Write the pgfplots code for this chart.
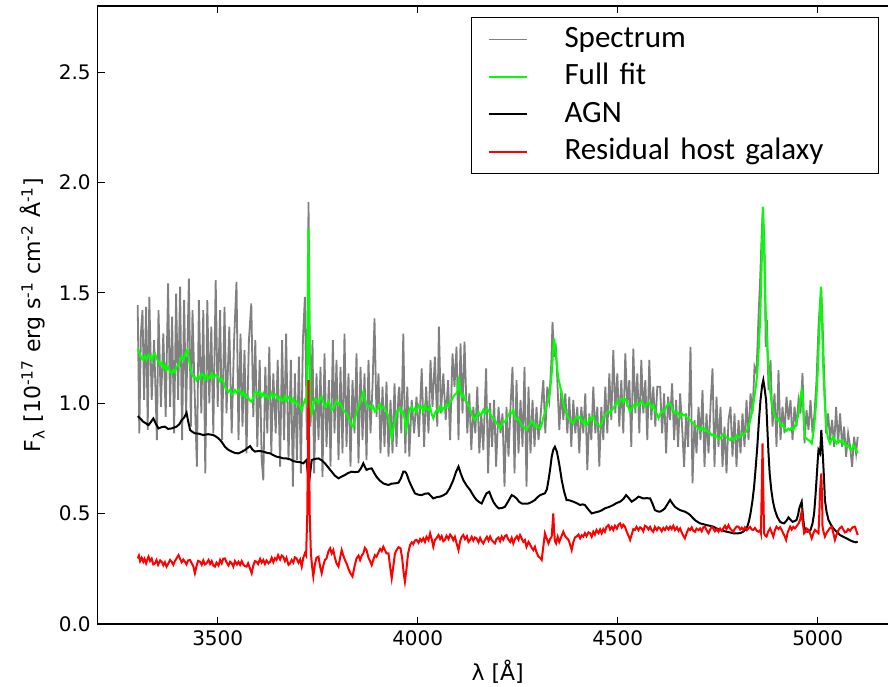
\documentclass[border=0pt]{standalone}
\usepackage{fontspec}
\setmainfont{DejaVu Sans}
\newfontfamily\carlito{Carlito}
\usepackage{pgfplots}
\usepackage{pgfplotstable}
\pgfplotsset{compat=1.18}
\definecolor{specgray}{RGB}{128,128,128}
\definecolor{fitgreen}{RGB}{0,255,0}
\definecolor{hostred}{RGB}{255,0,0}

\pgfplotstableread{
x y
3300 1.445
3304 0.864
3308 1.316
3312 1.422
3316 1.015
3321 1.437
3325 0.879
3329 1.482
3335 1.015
3341 1.286
3348 0.833
3352 1.422
3358 0.984
3364 1.316
3370 0.939
3376 1.543
3381 0.984
3386 1.392
3391 0.864
3396 1.497
3401 1.015
3406 1.528
3411 0.833
3416 1.467
3421 0.954
3428 1.565
3433 0.894
3437 1.422
3442 1.075
3448 0.713
3453 1.467
3459 0.954
3464 1.422
3469 0.682
3474 1.467
3479 1.000
3484 1.347
3489 0.864
3495 1.558
3500 0.984
3506 1.422
3511 0.833
3517 1.437
3522 0.954
3529 1.347
3535 0.864
3541 1.286
3547 1.550
3552 0.833
3557 1.316
3562 0.894
3567 1.241
3572 0.773
3578 1.286
3584 1.452
3589 0.939
3594 1.286
3599 0.803
3605 1.196
3610 0.743
3614 0.651
3619 1.165
3624 0.864
3629 1.256
3634 0.773
3639 1.135
3645 0.864
3650 1.196
3656 0.713
3661 1.286
3666 0.833
3671 1.316
3677 0.743
3683 1.196
3688 0.622
3693 1.135
3698 0.743
3703 1.211
3708 0.682
3713 1.286
3718 1.482
3723 0.833
3727 1.913
3732 0.894
3737 1.286
3741 0.682
3747 1.135
3752 0.833
3757 1.165
3762 0.667
3767 1.226
3772 0.803
3778 1.105
3782 0.713
3788 1.286
3792 0.864
3797 1.196
3802 0.743
3807 1.165
3812 0.773
3817 1.316
3822 0.803
3827 1.135
3832 0.713
3837 1.105
3842 0.864
3847 1.226
3852 0.728
3857 1.165
3862 0.833
3867 1.135
3872 0.743
3877 1.196
3882 0.864
3887 1.075
3892 1.384
3897 0.939
3902 1.135
3907 0.773
3912 1.075
3917 0.803
3922 1.098
3927 0.758
3932 1.015
3937 0.773
3942 1.090
3947 0.803
3952 1.045
3954 1.075
3959 0.864
3964 1.316
3969 0.773
3974 1.075
3979 0.758
3985 1.015
3991 0.864
3997 1.030
4003 0.848
4010 1.158
4016 0.803
4021 1.075
4027 0.864
4032 1.196
4037 0.984
4043 1.211
4049 0.894
4053 1.347
4058 0.954
4064 1.135
4070 0.924
4076 1.105
4081 0.833
4087 1.226
4092 1.075
4097 1.256
4102 0.833
4107 1.271
4112 0.954
4117 1.279
4124 0.864
4129 1.045
4134 0.788
4139 0.984
4144 0.864
4149 1.075
4154 0.773
4159 0.954
4164 0.788
4171 1.158
4176 0.683
4181 1.000
4186 0.803
4191 1.015
4196 0.713
4202 0.984
4207 0.864
4212 0.954
4217 0.622
4222 0.984
4227 0.758
4232 0.984
4237 1.165
4242 0.683
4247 1.105
4252 0.773
4257 1.015
4262 0.803
4267 1.165
4272 0.622
4277 1.075
4282 0.773
4287 1.015
4292 0.803
4297 0.984
4302 0.833
4307 0.939
4314 1.105
4319 0.864
4324 1.075
4329 1.015
4334 1.181
4337 1.369
4341 1.211
4345 1.271
4349 1.105
4354 0.879
4359 1.060
4364 0.924
4369 1.045
4374 0.864
4379 1.030
4384 0.803
4389 1.015
4394 0.864
4399 0.984
4404 0.773
4409 0.984
4414 0.864
4419 1.045
4424 0.697
4429 0.954
4434 0.833
4439 1.075
4444 0.864
4449 0.984
4454 0.713
4459 0.984
4464 0.833
4469 1.075
4474 0.864
4479 1.135
4484 0.924
4489 1.241
4494 0.954
4499 1.135
4504 0.894
4509 1.105
4514 0.864
4519 1.226
4524 0.984
4529 1.105
4534 0.803
4539 1.248
4544 0.954
4549 1.135
4554 0.864
4559 1.196
4564 0.954
4569 1.105
4574 0.833
4579 1.196
4584 0.924
4589 1.075
4594 0.894
4599 1.075
4606 1.075
4611 0.864
4616 1.045
4621 0.773
4626 1.030
4631 0.924
4636 1.090
4641 0.833
4646 1.015
4651 0.803
4656 1.045
4661 0.894
4666 0.712
4671 0.954
4676 0.803
4682 1.256
4687 0.637
4692 0.924
4697 0.773
4702 0.984
4707 0.833
4712 1.060
4717 0.712
4722 0.954
4727 0.773
4732 0.984
4737 1.158
4742 0.712
4747 1.030
4752 0.803
4757 0.984
4762 0.712
4767 0.894
4772 0.682
4777 0.924
4782 0.984
4787 0.758
4792 0.954
4797 0.712
4802 0.924
4807 0.773
4812 0.954
4817 0.803
4822 1.015
4827 0.833
4832 1.045
4837 0.954
4842 1.166
4847 1.136
4852 1.392
4856 1.558
4860 1.769
4863 1.890
4867 1.709
4870 1.256
4873 1.377
4877 1.060
4882 1.196
4887 0.894
4892 1.045
4897 0.803
4902 1.150
4907 0.833
4912 0.984
4917 0.864
4922 1.030
4927 0.924
4932 1.015
4937 0.833
4942 0.984
4947 0.894
4952 1.015
4957 0.954
4962 1.136
4967 0.818
4972 0.969
4977 0.879
4982 1.015
4987 0.864
4992 0.954
4997 1.105
5002 1.347
5006 1.467
5009 1.513
5012 1.377
5016 1.136
5021 0.864
5026 0.954
5031 0.833
5036 0.924
5041 0.803
5046 0.984
5051 0.818
5056 0.954
5061 0.803
5066 0.894
5071 0.758
5076 0.864
5081 0.803
5086 0.712
5091 0.848
5096 0.773
5100 0.848
}\spectrum

\pgfplotstableread{
x y
3300 1.248
3305 1.225
3309 1.205
3314 1.196
3318 1.215
3322 1.198
3327 1.220
3331 1.211
3336 1.195
3340 1.222
3343 1.226
3348 1.200
3352 1.190
3356 1.173
3361 1.185
3365 1.160
3369 1.172
3372 1.150
3377 1.165
3381 1.142
3385 1.135
3389 1.150
3393 1.140
3397 1.165
3402 1.170
3406 1.195
3410 1.211
3415 1.196
3419 1.225
3424 1.241
3429 1.190
3432 1.160
3435 1.135
3439 1.120
3443 1.118
3447 1.105
3452 1.125
3456 1.112
3460 1.133
3464 1.128
3468 1.110
3472 1.130
3477 1.112
3481 1.120
3485 1.135
3489 1.115
3493 1.128
3497 1.128
3502 1.115
3506 1.100
3510 1.112
3514 1.098
3518 1.075
3522 1.060
3527 1.052
3531 1.062
3535 1.040
3539 1.045
3543 1.060
3548 1.048
3552 1.062
3556 1.052
3560 1.035
3564 1.050
3568 1.030
3572 1.037
3576 1.025
3581 1.012
3585 1.007
3589 1.030
3593 1.052
3597 1.052
3601 1.035
3606 1.050
3610 1.032
3614 1.045
3618 1.030
3622 1.040
3627 1.022
3631 1.030
3635 1.045
3639 1.028
3643 1.040
3647 1.037
3651 1.018
3656 1.030
3660 1.010
3664 1.015
3668 1.030
3672 1.012
3677 1.028
3681 1.022
3685 1.005
3689 1.020
3693 1.000
3697 1.007
3701 0.995
3706 0.985
3710 0.969
3714 0.995
3718 1.015
3723 1.000
3727 1.792
3731 1.000
3735 0.954
3739 0.990
3743 1.020
3747 1.015
3752 1.000
3756 1.022
3760 1.030
3764 1.005
3768 0.985
3772 0.992
3777 1.010
3781 0.990
3785 0.970
3789 0.977
3793 0.995
3797 1.012
3802 0.995
3806 1.000
3810 0.985
3814 0.970
3818 0.960
3822 0.954
3827 0.935
3831 0.915
3835 0.900
3839 0.894
3843 0.930
3847 0.960
3852 0.984
3856 1.005
3860 1.030
3864 1.052
3868 1.020
3872 0.995
3877 0.984
3881 0.990
3885 0.975
3889 0.985
3893 0.962
3897 0.969
3902 0.980
3906 0.995
3910 0.975
3914 0.984
3918 0.977
3922 0.960
3927 0.939
3931 0.900
3935 0.841
3939 0.880
3943 0.924
3948 0.960
3952 0.970
3956 0.977
3960 0.955
3964 0.962
3968 0.925
3971 0.879
3975 0.920
3978 0.960
3981 0.977
3985 0.985
3989 0.965
3993 0.975
3997 0.962
4002 0.990
4006 0.978
4010 0.984
4014 0.965
4018 0.990
4022 0.972
4027 0.969
4031 0.985
4035 0.950
4039 0.932
4043 0.955
4048 0.970
4052 0.962
4056 0.985
4060 0.965
4064 0.980
4068 0.977
4072 0.995
4077 0.985
4081 1.005
4085 1.015
4089 1.030
4093 1.040
4097 1.045
4100 1.060
4103 1.120
4106 1.060
4110 1.030
4114 1.040
4118 1.015
4123 1.005
4127 0.992
4131 0.975
4135 0.950
4139 0.935
4143 0.924
4147 0.940
4152 0.960
4156 0.945
4160 0.954
4164 0.970
4168 0.955
4173 0.975
4177 0.969
4181 0.955
4185 0.940
4189 0.935
4193 0.924
4197 0.910
4202 0.900
4206 0.886
4210 0.905
4214 0.920
4218 0.915
4222 0.924
4226 0.945
4231 0.960
4235 0.955
4239 0.969
4243 0.940
4248 0.925
4252 0.930
4256 0.916
4260 0.900
4264 0.895
4268 0.885
4272 0.879
4277 0.895
4281 0.905
4285 0.920
4289 0.909
4293 0.895
4297 0.905
4302 0.890
4306 0.886
4310 0.905
4314 0.935
4318 0.954
4322 0.985
4327 1.015
4331 1.060
4335 1.135
4338 1.220
4341 1.294
4344 1.250
4347 1.196
4351 1.120
4355 1.085
4360 1.045
4364 1.000
4368 0.975
4372 0.954
4376 0.935
4381 0.925
4385 0.915
4389 0.909
4393 0.925
4397 0.940
4402 0.930
4406 0.939
4410 0.920
4414 0.910
4418 0.925
4422 0.901
4427 0.915
4431 0.935
4435 0.925
4439 0.939
4443 0.920
4448 0.905
4452 0.900
4456 0.894
4460 0.910
4464 0.930
4468 0.945
4472 0.954
4477 0.965
4481 0.955
4485 0.970
4489 0.977
4493 0.990
4498 1.005
4502 0.995
4506 1.015
4510 1.020
4514 1.005
4518 1.020
4521 1.015
4526 0.985
4531 0.962
4535 0.975
4539 0.990
4543 0.984
4547 1.000
4552 0.990
4556 0.999
4560 1.010
4564 0.995
4568 0.985
4572 0.992
4577 1.005
4581 0.995
4585 0.980
4589 0.992
4593 0.970
4598 0.950
4602 0.932
4606 0.950
4610 0.965
4614 0.960
4618 0.969
4622 0.985
4627 1.000
4631 0.999
4635 0.985
4639 0.965
4643 0.954
4648 0.962
4652 0.950
4656 0.939
4660 0.955
4664 0.945
4668 0.947
4672 0.935
4677 0.930
4681 0.924
4685 0.915
4689 0.910
4693 0.901
4697 0.895
4702 0.888
4706 0.879
4710 0.890
4714 0.880
4718 0.886
4722 0.875
4727 0.870
4731 0.864
4735 0.855
4739 0.860
4743 0.848
4748 0.850
4752 0.838
4756 0.841
4760 0.850
4764 0.860
4768 0.856
4772 0.845
4777 0.840
4781 0.833
4785 0.845
4789 0.835
4793 0.841
4798 0.855
4802 0.845
4806 0.848
4810 0.860
4814 0.855
4818 0.864
4823 0.878
4827 0.894
4831 0.920
4835 0.954
4839 0.995
4843 1.045
4847 1.100
4850 1.166
4853 1.260
4856 1.377
4858 1.500
4860 1.634
4863 1.890
4866 1.700
4867 1.634
4869 1.480
4871 1.362
4874 1.250
4877 1.150
4881 1.060
4885 0.999
4889 0.965
4893 0.939
4897 0.925
4902 0.930
4906 0.909
4910 0.895
4914 0.900
4918 0.886
4922 0.875
4927 0.885
4931 0.879
4935 0.890
4939 0.880
4943 0.894
4947 0.915
4952 0.954
4955 1.000
4957 1.030
4960 1.060
4962 1.045
4965 0.930
4968 0.848
4972 0.840
4977 0.833
4981 0.828
4985 0.818
4988 0.850
4991 0.894
4994 0.950
4997 1.030
5000 1.140
5003 1.286
5006 1.430
5008 1.528
5010 1.420
5012 1.286
5014 1.150
5017 1.030
5020 0.940
5022 0.879
5026 0.840
5031 0.818
5035 0.835
5039 0.848
5043 0.830
5047 0.818
5051 0.835
5056 0.825
5060 0.833
5064 0.815
5068 0.820
5072 0.803
5076 0.810
5081 0.795
5085 0.788
5089 0.810
5093 0.803
5097 0.785
5100 0.773
}\fullfit

\pgfplotstableread{
x y
3300 0.942
3307 0.930
3314 0.916
3320 0.910
3327 0.901
3333 0.915
3339 0.931
3346 0.905
3352 0.886
3360 0.892
3368 0.894
3376 0.884
3385 0.886
3391 0.890
3397 0.894
3404 0.905
3410 0.924
3416 0.935
3422 0.957
3426 0.920
3431 0.879
3437 0.870
3443 0.864
3453 0.862
3464 0.856
3476 0.860
3489 0.856
3495 0.850
3502 0.841
3510 0.825
3518 0.803
3526 0.790
3535 0.781
3543 0.775
3552 0.773
3560 0.780
3568 0.788
3575 0.798
3581 0.806
3587 0.790
3593 0.781
3603 0.784
3614 0.781
3622 0.776
3631 0.773
3639 0.765
3647 0.758
3656 0.755
3664 0.750
3672 0.750
3681 0.746
3689 0.738
3697 0.735
3706 0.733
3714 0.728
3722 0.743
3728 0.637
3735 0.743
3743 0.748
3752 0.750
3760 0.742
3768 0.728
3776 0.710
3785 0.690
3793 0.672
3802 0.660
3810 0.668
3818 0.675
3826 0.684
3835 0.690
3843 0.688
3852 0.690
3858 0.705
3864 0.728
3868 0.712
3872 0.698
3878 0.703
3885 0.705
3891 0.685
3897 0.667
3905 0.650
3914 0.637
3920 0.633
3927 0.630
3935 0.636
3943 0.637
3952 0.640
3958 0.660
3964 0.690
3968 0.690
3972 0.682
3978 0.650
3985 0.622
3993 0.592
4001 0.586
4010 0.584
4018 0.590
4027 0.592
4033 0.580
4039 0.569
4048 0.575
4056 0.577
4064 0.583
4072 0.592
4080 0.615
4089 0.652
4096 0.690
4102 0.713
4108 0.680
4114 0.652
4122 0.628
4131 0.607
4139 0.582
4147 0.562
4154 0.552
4160 0.546
4166 0.570
4172 0.592
4179 0.599
4184 0.575
4189 0.554
4196 0.535
4202 0.524
4210 0.525
4218 0.531
4226 0.555
4235 0.584
4241 0.578
4247 0.569
4254 0.553
4260 0.546
4268 0.545
4277 0.546
4285 0.553
4293 0.562
4300 0.575
4306 0.584
4312 0.588
4318 0.592
4323 0.610
4327 0.652
4331 0.700
4335 0.758
4339 0.790
4343 0.803
4348 0.780
4352 0.743
4356 0.700
4360 0.652
4366 0.600
4372 0.562
4380 0.560
4389 0.554
4397 0.548
4406 0.539
4412 0.542
4418 0.539
4426 0.520
4435 0.501
4443 0.505
4452 0.509
4460 0.515
4468 0.524
4478 0.530
4489 0.539
4497 0.548
4506 0.554
4514 0.566
4521 0.584
4528 0.570
4535 0.554
4544 0.565
4552 0.577
4558 0.573
4564 0.569
4572 0.570
4581 0.569
4587 0.545
4593 0.516
4600 0.510
4606 0.509
4612 0.515
4618 0.524
4625 0.545
4631 0.562
4637 0.545
4643 0.531
4650 0.522
4656 0.516
4662 0.512
4668 0.509
4675 0.502
4681 0.494
4687 0.482
4693 0.471
4700 0.462
4706 0.456
4714 0.452
4722 0.448
4730 0.445
4739 0.441
4747 0.433
4756 0.426
4764 0.422
4772 0.418
4780 0.415
4789 0.411
4796 0.410
4802 0.411
4808 0.413
4814 0.418
4819 0.428
4824 0.441
4828 0.465
4832 0.501
4837 0.560
4841 0.622
4845 0.710
4849 0.803
4853 0.920
4857 1.015
4861 1.080
4864 1.105
4867 1.070
4871 1.015
4874 0.890
4877 0.773
4880 0.680
4884 0.607
4888 0.556
4893 0.516
4899 0.485
4906 0.463
4911 0.458
4916 0.456
4922 0.468
4927 0.483
4932 0.472
4937 0.463
4942 0.466
4947 0.471
4951 0.495
4954 0.524
4957 0.540
4960 0.554
4963 0.490
4966 0.441
4970 0.425
4974 0.418
4978 0.420
4982 0.426
4987 0.455
4991 0.501
4994 0.570
4997 0.652
5000 0.740
5002 0.788
5004 0.780
5006 0.773
5008 0.840
5009 0.879
5011 0.820
5013 0.758
5016 0.650
5018 0.562
5022 0.510
5027 0.471
5033 0.450
5039 0.433
5047 0.418
5056 0.403
5064 0.395
5072 0.388
5080 0.380
5089 0.373
5095 0.370
5100 0.373
}\agn

\pgfplotstableread{
x y
3300 0.297
3303 0.310
3306 0.285
3310 0.300
3314 0.282
3317 0.295
3321 0.275
3324 0.292
3327 0.305
3331 0.285
3335 0.296
3339 0.270
3343 0.275
3347 0.290
3351 0.268
3356 0.288
3360 0.282
3364 0.266
3368 0.280
3372 0.260
3376 0.272
3381 0.290
3385 0.282
3389 0.268
3393 0.285
3398 0.300
3402 0.312
3406 0.295
3410 0.280
3414 0.292
3418 0.282
3422 0.270
3426 0.288
3431 0.290
3435 0.275
3439 0.262
3443 0.230
3447 0.262
3451 0.286
3456 0.282
3460 0.268
3464 0.288
3468 0.270
3472 0.275
3477 0.290
3481 0.272
3485 0.285
3489 0.265
3493 0.260
3497 0.278
3502 0.265
3506 0.290
3510 0.275
3514 0.296
3518 0.297
3522 0.280
3527 0.265
3531 0.282
3535 0.275
3539 0.260
3543 0.285
3548 0.270
3552 0.282
3556 0.268
3560 0.285
3564 0.270
3568 0.262
3572 0.260
3576 0.275
3581 0.250
3585 0.230
3589 0.265
3593 0.285
3597 0.282
3601 0.272
3606 0.295
3610 0.278
3614 0.290
3618 0.272
3622 0.288
3627 0.275
3631 0.282
3635 0.300
3639 0.280
3643 0.298
3647 0.290
3651 0.312
3656 0.292
3660 0.310
3664 0.305
3668 0.285
3672 0.300
3677 0.268
3681 0.275
3685 0.290
3689 0.278
3693 0.302
3697 0.297
3702 0.278
3706 0.292
3710 0.260
3714 0.300
3718 0.320
3721 0.310
3724 0.500
3727 1.105
3730 0.500
3733 0.320
3736 0.260
3739 0.215
3743 0.270
3747 0.300
3752 0.305
3756 0.260
3760 0.230
3764 0.265
3768 0.290
3772 0.297
3777 0.330
3781 0.343
3785 0.320
3789 0.335
3793 0.300
3797 0.275
3802 0.260
3806 0.300
3810 0.335
3814 0.310
3818 0.290
3822 0.275
3827 0.250
3831 0.232
3837 0.215
3842 0.260
3847 0.297
3852 0.310
3856 0.290
3860 0.310
3864 0.320
3868 0.345
3872 0.335
3877 0.300
3881 0.285
3885 0.267
3889 0.290
3893 0.312
3897 0.305
3902 0.325
3906 0.340
3910 0.330
3914 0.350
3918 0.335
3922 0.320
3927 0.320
3931 0.260
3935 0.207
3939 0.260
3943 0.318
3947 0.335
3952 0.348
3957 0.343
3961 0.300
3965 0.230
3968 0.192
3972 0.250
3976 0.320
3981 0.358
3985 0.370
3989 0.362
3993 0.378
3997 0.381
4002 0.368
4006 0.385
4010 0.375
4014 0.388
4018 0.372
4022 0.395
4027 0.380
4031 0.411
4035 0.385
4039 0.350
4043 0.380
4048 0.392
4052 0.403
4056 0.385
4060 0.398
4064 0.375
4068 0.381
4072 0.400
4077 0.385
4081 0.405
4085 0.396
4089 0.380
4093 0.395
4098 0.360
4102 0.335
4106 0.375
4110 0.395
4114 0.403
4118 0.385
4123 0.398
4127 0.372
4131 0.381
4135 0.395
4139 0.378
4143 0.392
4147 0.388
4152 0.370
4156 0.390
4160 0.375
4164 0.365
4168 0.380
4173 0.395
4177 0.378
4181 0.396
4185 0.380
4189 0.372
4193 0.365
4197 0.385
4202 0.392
4206 0.375
4210 0.396
4214 0.382
4218 0.398
4222 0.403
4226 0.385
4231 0.372
4235 0.390
4239 0.365
4243 0.385
4248 0.398
4252 0.382
4256 0.403
4260 0.388
4264 0.372
4268 0.380
4272 0.350
4277 0.372
4281 0.360
4285 0.345
4289 0.335
4293 0.350
4297 0.325
4302 0.305
4306 0.300
4310 0.290
4314 0.350
4318 0.411
4322 0.390
4327 0.365
4331 0.385
4335 0.396
4337 0.450
4339 0.501
4341 0.420
4343 0.375
4346 0.365
4350 0.395
4354 0.372
4356 0.381
4360 0.400
4364 0.418
4368 0.400
4372 0.390
4377 0.381
4381 0.360
4385 0.335
4389 0.370
4393 0.392
4397 0.396
4402 0.405
4406 0.388
4410 0.402
4414 0.396
4418 0.412
4422 0.398
4427 0.415
4431 0.411
4435 0.395
4439 0.418
4443 0.405
4447 0.426
4452 0.412
4456 0.428
4460 0.411
4464 0.430
4468 0.418
4472 0.440
4477 0.448
4481 0.428
4485 0.440
4489 0.426
4493 0.445
4498 0.432
4502 0.450
4506 0.456
4510 0.438
4514 0.450
4518 0.441
4522 0.420
4527 0.400
4531 0.381
4535 0.405
4539 0.430
4543 0.426
4547 0.440
4552 0.425
4556 0.438
4560 0.433
4564 0.420
4568 0.445
4572 0.441
4577 0.428
4581 0.440
4585 0.425
4589 0.418
4593 0.440
4598 0.425
4602 0.438
4606 0.433
4610 0.420
4614 0.435
4618 0.426
4622 0.440
4627 0.428
4631 0.441
4635 0.430
4639 0.445
4643 0.426
4648 0.438
4652 0.422
4656 0.433
4660 0.415
4664 0.400
4668 0.388
4672 0.410
4677 0.432
4681 0.426
4685 0.438
4689 0.422
4693 0.418
4697 0.432
4702 0.425
4706 0.433
4710 0.420
4714 0.438
4718 0.441
4722 0.425
4727 0.411
4731 0.428
4735 0.440
4739 0.433
4743 0.420
4748 0.430
4752 0.418
4756 0.432
4760 0.422
4764 0.433
4768 0.445
4772 0.430
4777 0.448
4781 0.432
4785 0.425
4789 0.418
4793 0.432
4798 0.442
4802 0.441
4806 0.428
4810 0.436
4814 0.426
4818 0.438
4823 0.425
4827 0.433
4831 0.440
4835 0.428
4839 0.426
4843 0.435
4848 0.422
4852 0.418
4856 0.425
4858 0.411
4860 0.600
4862 0.818
4864 0.600
4866 0.411
4869 0.400
4872 0.396
4876 0.418
4881 0.433
4885 0.415
4889 0.396
4893 0.425
4897 0.441
4902 0.430
4906 0.438
4910 0.426
4914 0.410
4918 0.395
4921 0.381
4925 0.415
4931 0.441
4935 0.428
4939 0.440
4943 0.433
4948 0.445
4952 0.455
4956 0.471
4958 0.495
4960 0.509
4962 0.470
4966 0.411
4970 0.420
4973 0.432
4977 0.426
4981 0.410
4985 0.388
4989 0.410
4993 0.426
4997 0.420
5002 0.411
5004 0.500
5006 0.607
5009 0.682
5011 0.560
5012 0.441
5015 0.415
5018 0.396
5022 0.412
5027 0.426
5031 0.435
5035 0.441
5039 0.412
5043 0.381
5047 0.405
5052 0.426
5056 0.435
5060 0.441
5064 0.428
5068 0.415
5072 0.418
5076 0.430
5081 0.422
5085 0.433
5089 0.440
5093 0.441
5097 0.420
5100 0.403
}\host

\begin{document}
\begin{tikzpicture}
\begin{axis}[
  name=ax,
  width=400pt, height=309pt, scale only axis,
  xmin=3200, xmax=5200, ymin=0, ymax=2.8,
  xtick={3500,4000,4500,5000},
  ytick={0,0.5,1,1.5,2,2.5},
  tick align=inside,
  major tick length=3.5pt,
  tick style={black, line width=0.5pt},
  axis line style={line width=0.75pt},
  /pgf/number format/assume math mode=true,
  xticklabel style={/pgf/number format/1000 sep={}},
  yticklabel style={/pgf/number format/.cd, fixed, fixed zerofill, precision=1},
  ticklabel style={font=\fontsize{10}{12}\selectfont},
  xlabel={λ [Å]},
  ylabel={F\textsubscript{λ} [10\textsuperscript{-17} erg s\textsuperscript{-1} cm\textsuperscript{-2} Å\textsuperscript{-1}]},
  label style={font=\fontsize{11}{13}\selectfont},
  legend cell align=left,
  legend image code/.code={\draw[#1] (8.5pt,0pt) -- (27.5pt,0pt); \path[draw=none] (0pt,0pt) -- (46.5pt,0pt);},
  legend style={at={(1,1)}, anchor=north east, xshift=-9.35pt, yshift=-5.5pt,
    draw=black, line width=0.5pt, inner xsep=0pt, inner ysep=3pt,
    row sep=2.75pt, column sep=0pt,
    font=\carlito\fontsize{15.5}{18.75}\selectfont,
    nodes={inner sep=0pt, text height=12pt, text depth=4pt, text width=157pt, align=left}},
]
\addplot[specgray, line width=0.9pt] table[x=x,y=y] {\spectrum};
\addlegendentry{Spectrum}
\addplot[fitgreen, line width=1pt] table[x=x,y=y] {\fullfit};
\addlegendentry{Full fit}
\addplot[black, line width=1pt] table[x=x,y=y] {\agn};
\addlegendentry{AGN}
\addplot[hostred, line width=1pt] table[x=x,y=y] {\host};
\addlegendentry{Residual host galaxy}
\end{axis}
\pgfresetboundingbox
\path[use as bounding box] ([xshift=-48.85pt,yshift=-31.5pt]ax.south west) rectangle ([xshift=-4.85pt,yshift=3pt]ax.north east);
\end{tikzpicture}
\end{document}
